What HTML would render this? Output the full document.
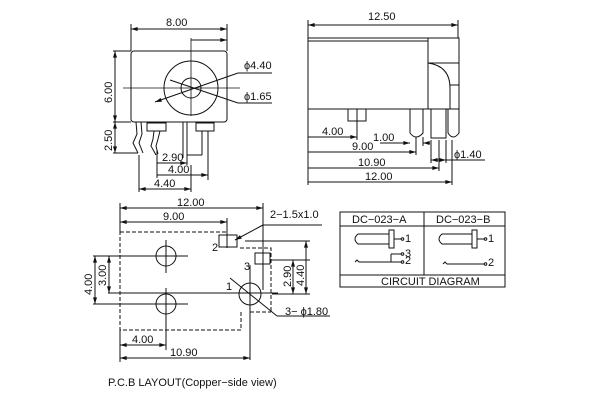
<!DOCTYPE html>
<html><head><style>
html,body{margin:0;padding:0;background:#fff;}
svg{display:block;}
text{font-family:"Liberation Sans",sans-serif;font-size:11px;fill:#111;}
</style></head><body>
<svg width="600" height="400" viewBox="0 0 600 400" xmlns="http://www.w3.org/2000/svg">
<defs>
<marker id="a" viewBox="0 0 10 6" refX="10" refY="3" markerWidth="7" markerHeight="4" orient="auto-start-reverse" markerUnits="userSpaceOnUse"><path d="M0,0L10,3L0,6z" fill="#111"/></marker>
</defs>
<g stroke="#111" stroke-width="1" fill="none">
<!-- TOP LEFT VIEW -->
<line x1="131" y1="24" x2="131" y2="51"/><line x1="227" y1="24" x2="227" y2="51"/>
<line x1="131" y1="29" x2="227" y2="29" marker-start="url(#a)" marker-end="url(#a)"/>
<line x1="191" y1="40" x2="227" y2="40" marker-end="url(#a)"/>
<rect x="131" y="51" width="96" height="71" rx="3"/>
<circle cx="191" cy="88" r="27"/>
<circle cx="191" cy="88" r="10"/>
<line x1="191" y1="38" x2="191" y2="116" stroke-width="0.8"/>
<line x1="123" y1="88" x2="240" y2="88" stroke-width="0.8"/>
<line x1="155" y1="102" x2="238" y2="73" marker-start="url(#a)"/><line x1="238" y1="73" x2="272" y2="73"/>
<line x1="170" y1="80" x2="238" y2="103"/><line x1="238" y1="103" x2="272" y2="103"/>
<line x1="113" y1="51" x2="131" y2="51"/><line x1="113" y1="122" x2="131" y2="122"/><line x1="113" y1="153" x2="138" y2="153"/>
<line x1="115" y1="51" x2="115" y2="122" marker-start="url(#a)" marker-end="url(#a)"/>
<line x1="115" y1="122" x2="115" y2="153" marker-start="url(#a)" marker-end="url(#a)"/>
<path d="M136,122 L137,134 L133,143 L138,153"/><path d="M141,122 L142,134 L139,143 L143,153"/>
<rect x="147" y="123" width="19" height="8"/>
<path d="M154,131 L153,139 L151,146 L156,155"/><path d="M160,131 L158,139 L156,146 L158,154"/>
<rect x="196" y="123" width="18" height="8"/>
<line x1="202" y1="131" x2="202" y2="155"/><line x1="208" y1="131" x2="208" y2="180"/>
<line x1="183" y1="122" x2="183" y2="158"/><line x1="187" y1="122" x2="187" y2="165"/><line x1="187" y1="155" x2="202" y2="155"/>
<line x1="157" y1="150" x2="157" y2="178"/><line x1="139" y1="155" x2="139" y2="192"/><line x1="191" y1="165" x2="191" y2="192"/>
<line x1="157" y1="163" x2="187" y2="163" marker-end="url(#a)"/>
<line x1="157" y1="175" x2="208" y2="175" marker-end="url(#a)"/>
<line x1="139" y1="189" x2="191" y2="189" marker-start="url(#a)" marker-end="url(#a)"/>
<!-- TOP RIGHT VIEW -->
<line x1="308" y1="20" x2="308" y2="38"/><line x1="458" y1="20" x2="458" y2="38"/>
<line x1="308" y1="25" x2="458" y2="25" marker-start="url(#a)" marker-end="url(#a)"/>
<rect x="308" y="38" width="151" height="71"/>
<line x1="308" y1="41" x2="428" y2="41"/>
<line x1="428" y1="38" x2="428" y2="109"/>
<line x1="428" y1="63" x2="459" y2="63"/>
<path d="M428,63 Q450,66 450,88 L450,109"/><line x1="450" y1="85" x2="459" y2="85"/>
<rect x="348" y="109" width="18" height="12"/>
<line x1="357" y1="109" x2="357" y2="140"/>
<path d="M410,109 L410,133 Q416,141 423,133 L423,109"/>
<path d="M431,109 L431,138 L446,138 L446,109"/>
<path d="M448,109 L448,133 Q453,141 459,133 L459,109"/>
<line x1="308" y1="109" x2="308" y2="185"/>
<line x1="308" y1="137" x2="357" y2="137" marker-end="url(#a)"/>
<line x1="308" y1="152" x2="416" y2="152" marker-end="url(#a)"/>
<line x1="308" y1="168" x2="439" y2="168" marker-end="url(#a)"/>
<line x1="308" y1="182" x2="452" y2="182" marker-end="url(#a)"/>
<line x1="380" y1="143" x2="410" y2="143" marker-end="url(#a)"/><line x1="423" y1="143" x2="430" y2="143" marker-start="url(#a)"/>
<line x1="416" y1="137" x2="416" y2="155"/><line x1="423" y1="137" x2="423" y2="146"/>
<line x1="431" y1="140" x2="431" y2="163"/><line x1="439" y1="140" x2="439" y2="171"/><line x1="446" y1="140" x2="446" y2="163"/><line x1="452" y1="140" x2="452" y2="185"/>
<line x1="431" y1="160" x2="446" y2="160" marker-start="url(#a)" marker-end="url(#a)"/><line x1="446" y1="160" x2="485" y2="160"/>
<!-- PCB -->
<line x1="120" y1="203" x2="120" y2="232"/><line x1="263" y1="203" x2="263" y2="290"/><line x1="227" y1="218" x2="227" y2="248"/>
<line x1="120" y1="208" x2="263" y2="208" marker-start="url(#a)" marker-end="url(#a)"/>
<line x1="120" y1="222" x2="227" y2="222" marker-start="url(#a)" marker-end="url(#a)"/>
<path d="M120,232 L228,232 M240,248 L271,248 L271,312 M241,312 L241,330 L120,330 L120,232" stroke-dasharray="4,2"/>
<line x1="250" y1="312" x2="271" y2="312" stroke-dasharray="4,2"/>
<circle cx="166" cy="256" r="10"/><circle cx="166" cy="304" r="10"/><circle cx="250" cy="294" r="11"/>
<line x1="166" y1="240" x2="166" y2="273"/><line x1="150" y1="256" x2="188" y2="256"/>
<line x1="166" y1="288" x2="166" y2="350"/><line x1="150" y1="304" x2="188" y2="304"/>
<line x1="250" y1="265" x2="250" y2="360"/>
<line x1="108" y1="293" x2="278" y2="293"/>
<line x1="93" y1="256" x2="150" y2="256"/><line x1="93" y1="304" x2="150" y2="304"/>
<line x1="95" y1="256" x2="95" y2="304" marker-start="url(#a)" marker-end="url(#a)"/>
<line x1="109" y1="256" x2="109" y2="293" marker-start="url(#a)" marker-end="url(#a)"/>
<rect x="219" y="235" width="18" height="12"/><rect x="255" y="253" width="15" height="11"/>
<line x1="245" y1="241" x2="310" y2="241"/><line x1="270" y1="260" x2="310" y2="260"/>
<line x1="306" y1="241" x2="306" y2="294" marker-start="url(#a)" marker-end="url(#a)"/>
<line x1="293" y1="260" x2="293" y2="294" marker-start="url(#a)" marker-end="url(#a)"/>
<line x1="272" y1="294" x2="310" y2="294"/>
<line x1="235" y1="240" x2="263" y2="225" marker-start="url(#a)"/><line x1="263" y1="225" x2="322" y2="225"/>
<line x1="230" y1="278" x2="277" y2="316"/><line x1="277" y1="316" x2="330" y2="316"/>
<line x1="120" y1="330" x2="120" y2="362"/>
<line x1="120" y1="345" x2="166" y2="345" marker-start="url(#a)" marker-end="url(#a)"/>
<line x1="120" y1="358" x2="250" y2="358" marker-start="url(#a)" marker-end="url(#a)"/>
<!-- TABLE -->
<rect x="340" y="212" width="165" height="75"/>
<line x1="340" y1="226" x2="505" y2="226"/><line x1="340" y1="275" x2="505" y2="275"/><line x1="424" y1="212" x2="424" y2="275"/>
<path d="M370,234 L358,234 Q352,239 358,244 L370,244"/><rect x="389" y="230" width="5" height="18"/><line x1="370" y1="234" x2="389" y2="234"/><line x1="370" y1="244" x2="389" y2="244"/>
<line x1="394" y1="239" x2="401" y2="239"/><circle cx="402.5" cy="239" r="1.3"/>
<path d="M355,262 L357,260 L359,262 L401,262"/><circle cx="402.5" cy="262" r="1.3"/>
<line x1="391" y1="262" x2="391" y2="254"/><line x1="391" y1="254" x2="401" y2="254"/><circle cx="402.5" cy="254" r="1.3"/>
<path d="M454,234 L442,234 Q436,239 442,244 L454,244"/><rect x="472" y="230" width="5" height="18"/><line x1="454" y1="234" x2="472" y2="234"/><line x1="454" y1="244" x2="472" y2="244"/>
<line x1="477" y1="239" x2="484" y2="239"/><circle cx="485.5" cy="239" r="1.3"/>
<path d="M443,264 L445,262 L447,264 L484,264"/><circle cx="485.5" cy="264" r="1.3"/>
</g>
<g>
<text x="166" y="26">8.00</text>
<text x="244" y="69">ϕ4.40</text>
<text x="244" y="100">ϕ1.65</text>
<text transform="translate(112,103) rotate(-90)">6.00</text>
<text transform="translate(112,151) rotate(-90)">2.50</text>
<text x="162" y="161">2.90</text>
<text x="168" y="173">4.00</text>
<text x="154" y="187">4.40</text>
<text x="368" y="20">12.50</text>
<text x="322" y="135">4.00</text>
<text x="373" y="141">1.00</text>
<text x="352" y="150">9.00</text>
<text x="358" y="166">10.90</text>
<text x="365" y="180">12.00</text>
<text x="454" y="158">ϕ1.40</text>
<text x="177" y="206">12.00</text>
<text x="163" y="220">9.00</text>
<text x="270" y="218">2−1.5x1.0</text>
<text x="212" y="251">2</text>
<text x="244" y="270">3</text>
<text x="226" y="290">1</text>
<text transform="translate(92,295) rotate(-90)">4.00</text>
<text transform="translate(106,286) rotate(-90)">3.00</text>
<text transform="translate(291,287) rotate(-90)">2.90</text>
<text transform="translate(304,286) rotate(-90)">4.40</text>
<text x="285" y="315">3− ϕ1.80</text>
<text x="132" y="343">4.00</text>
<text x="170" y="356">10.90</text>
<text x="108" y="386">P.C.B LAYOUT(Copper−side view)</text>
<text x="352" y="223" font-size="9.5">DC−023−A</text>
<text x="436" y="223" font-size="9.5">DC−023−B</text>
<text x="381" y="285" font-size="8.5">CIRCUIT DIAGRAM</text>
<text x="405" y="242" font-size="5">1</text><text x="405" y="257" font-size="5">3</text><text x="405" y="264" font-size="5">2</text>
<text x="488" y="242" font-size="5">1</text><text x="488" y="266" font-size="5">2</text>
</g>
</svg>
</body></html>
